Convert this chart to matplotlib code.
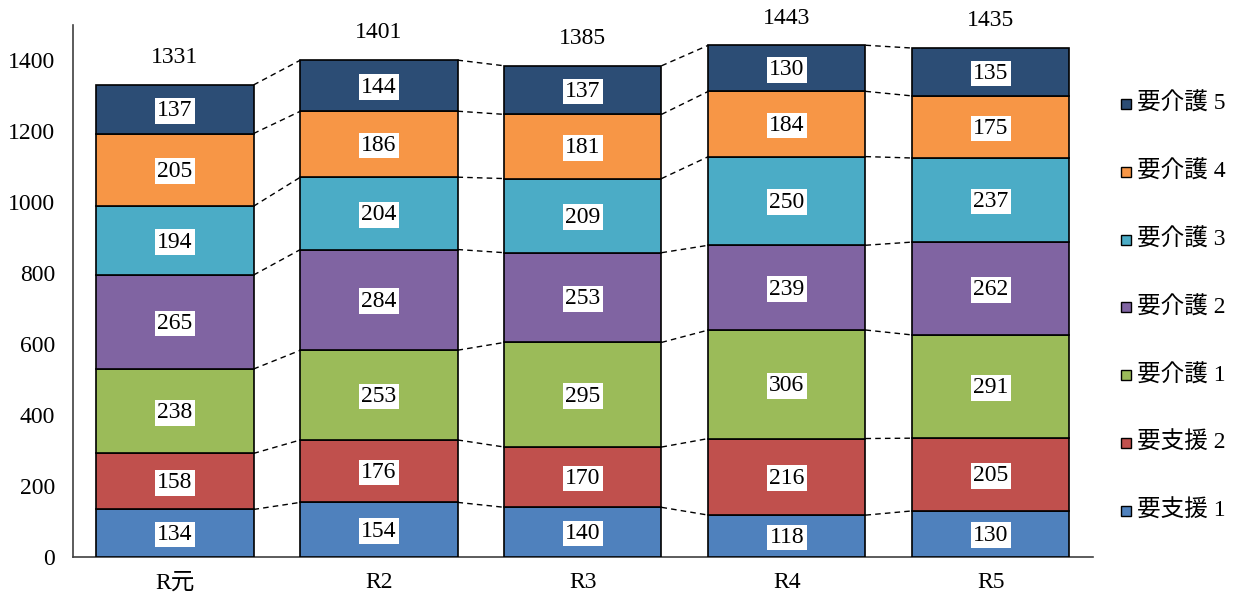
import numpy as np
import matplotlib
matplotlib.use("Agg")
from matplotlib import pyplot as plt
from matplotlib.patches import Rectangle

plt.rcParams['font.family'] = ['Liberation Serif', 'Noto Sans CJK JP']

years = ["R元", "R2", "R3", "R4", "R5"]
legend_names = ["要支援 1", "要支援 2", "要介護 1", "要介護 2", "要介護 3", "要介護 4", "要介護 5"]
colors = ["#4F81BD", "#C0504D", "#9BBB59", "#8064A2", "#4BACC6", "#F79646", "#2C4D75"]

shien1 = [134, 154, 140, 118, 130]
shien2 = [158, 176, 170, 216, 205]
kaigo1 = [238, 253, 295, 306, 291]
kaigo2 = [265, 284, 253, 239, 262]
kaigo3 = [194, 204, 209, 250, 237]
kaigo4 = [205, 186, 181, 184, 175]
kaigo5 = [137, 144, 137, 130, 135]

data = np.array([shien1, shien2, kaigo1, kaigo2, kaigo3, kaigo4, kaigo5])
totals = data.sum(axis=0)

fig = plt.figure(figsize=(12.41, 6), dpi=100)
ax = fig.add_axes([0.0588, 0.0717, 0.8219, 0.8866])

x = np.arange(len(years))
width = 0.77
fs = 17

bottom = np.zeros(len(years))
for vals, c in zip(data, colors):
    ax.bar(x, vals, width, bottom=bottom, color=c, edgecolor="black", linewidth=1.2, zorder=3)
    for xi, b, v in zip(x, bottom, vals):
        ax.text(xi, b + v / 2 - 4, str(v), ha="center", va="center", fontsize=fs, zorder=5,
                bbox=dict(boxstyle="square,pad=0.1", facecolor="white", edgecolor="none"))
    bottom = bottom + vals

# dashed connectors between bars
cum = np.cumsum(data, axis=0)
for level in cum:
    for i in range(len(years) - 1):
        ax.plot([x[i] + width / 2, x[i + 1] - width / 2], [level[i], level[i + 1]],
                linestyle=(0, (4, 3)), color="black", linewidth=1.0, zorder=2)

for xi, t in zip(x, totals):
    ax.annotate(str(t), (xi, t), xytext=(0, 12), textcoords="offset points",
                ha="center", va="bottom", fontsize=fs)

ax.set_xlim(-0.5, len(years) - 0.5)
ax.set_ylim(0, 1500)
ax.set_yticks(range(0, 1401, 200))
ax.set_xticks(x)
ax.set_xticklabels(years)
ax.tick_params(axis="both", length=0, labelsize=fs)
ax.tick_params(axis="y", pad=13)
ax.tick_params(axis="x", pad=11)
for s in ["top", "right"]:
    ax.spines[s].set_visible(False)
for s in ["left", "bottom"]:
    ax.spines[s].set_color("#404040")
    ax.spines[s].set_linewidth(1.2)

# legend drawn by hand, top entry = last series
leg_x = 1126 / 1241
leg_top = 1 - 104 / 600
leg_step = 67.8 / 600
for k, (name, c) in enumerate(zip(legend_names[::-1], colors[::-1])):
    y = leg_top - k * leg_step
    fig.patches.append(Rectangle((leg_x - 5 / 1241, y - 5 / 600), 10 / 1241, 10 / 600,
                                 transform=fig.transFigure, facecolor=c,
                                 edgecolor="black", linewidth=1.0))
    fig.text(leg_x + 11 / 1241, y, name, ha="left", va="center", fontsize=fs)

fig.savefig("out.png", dpi=100)
